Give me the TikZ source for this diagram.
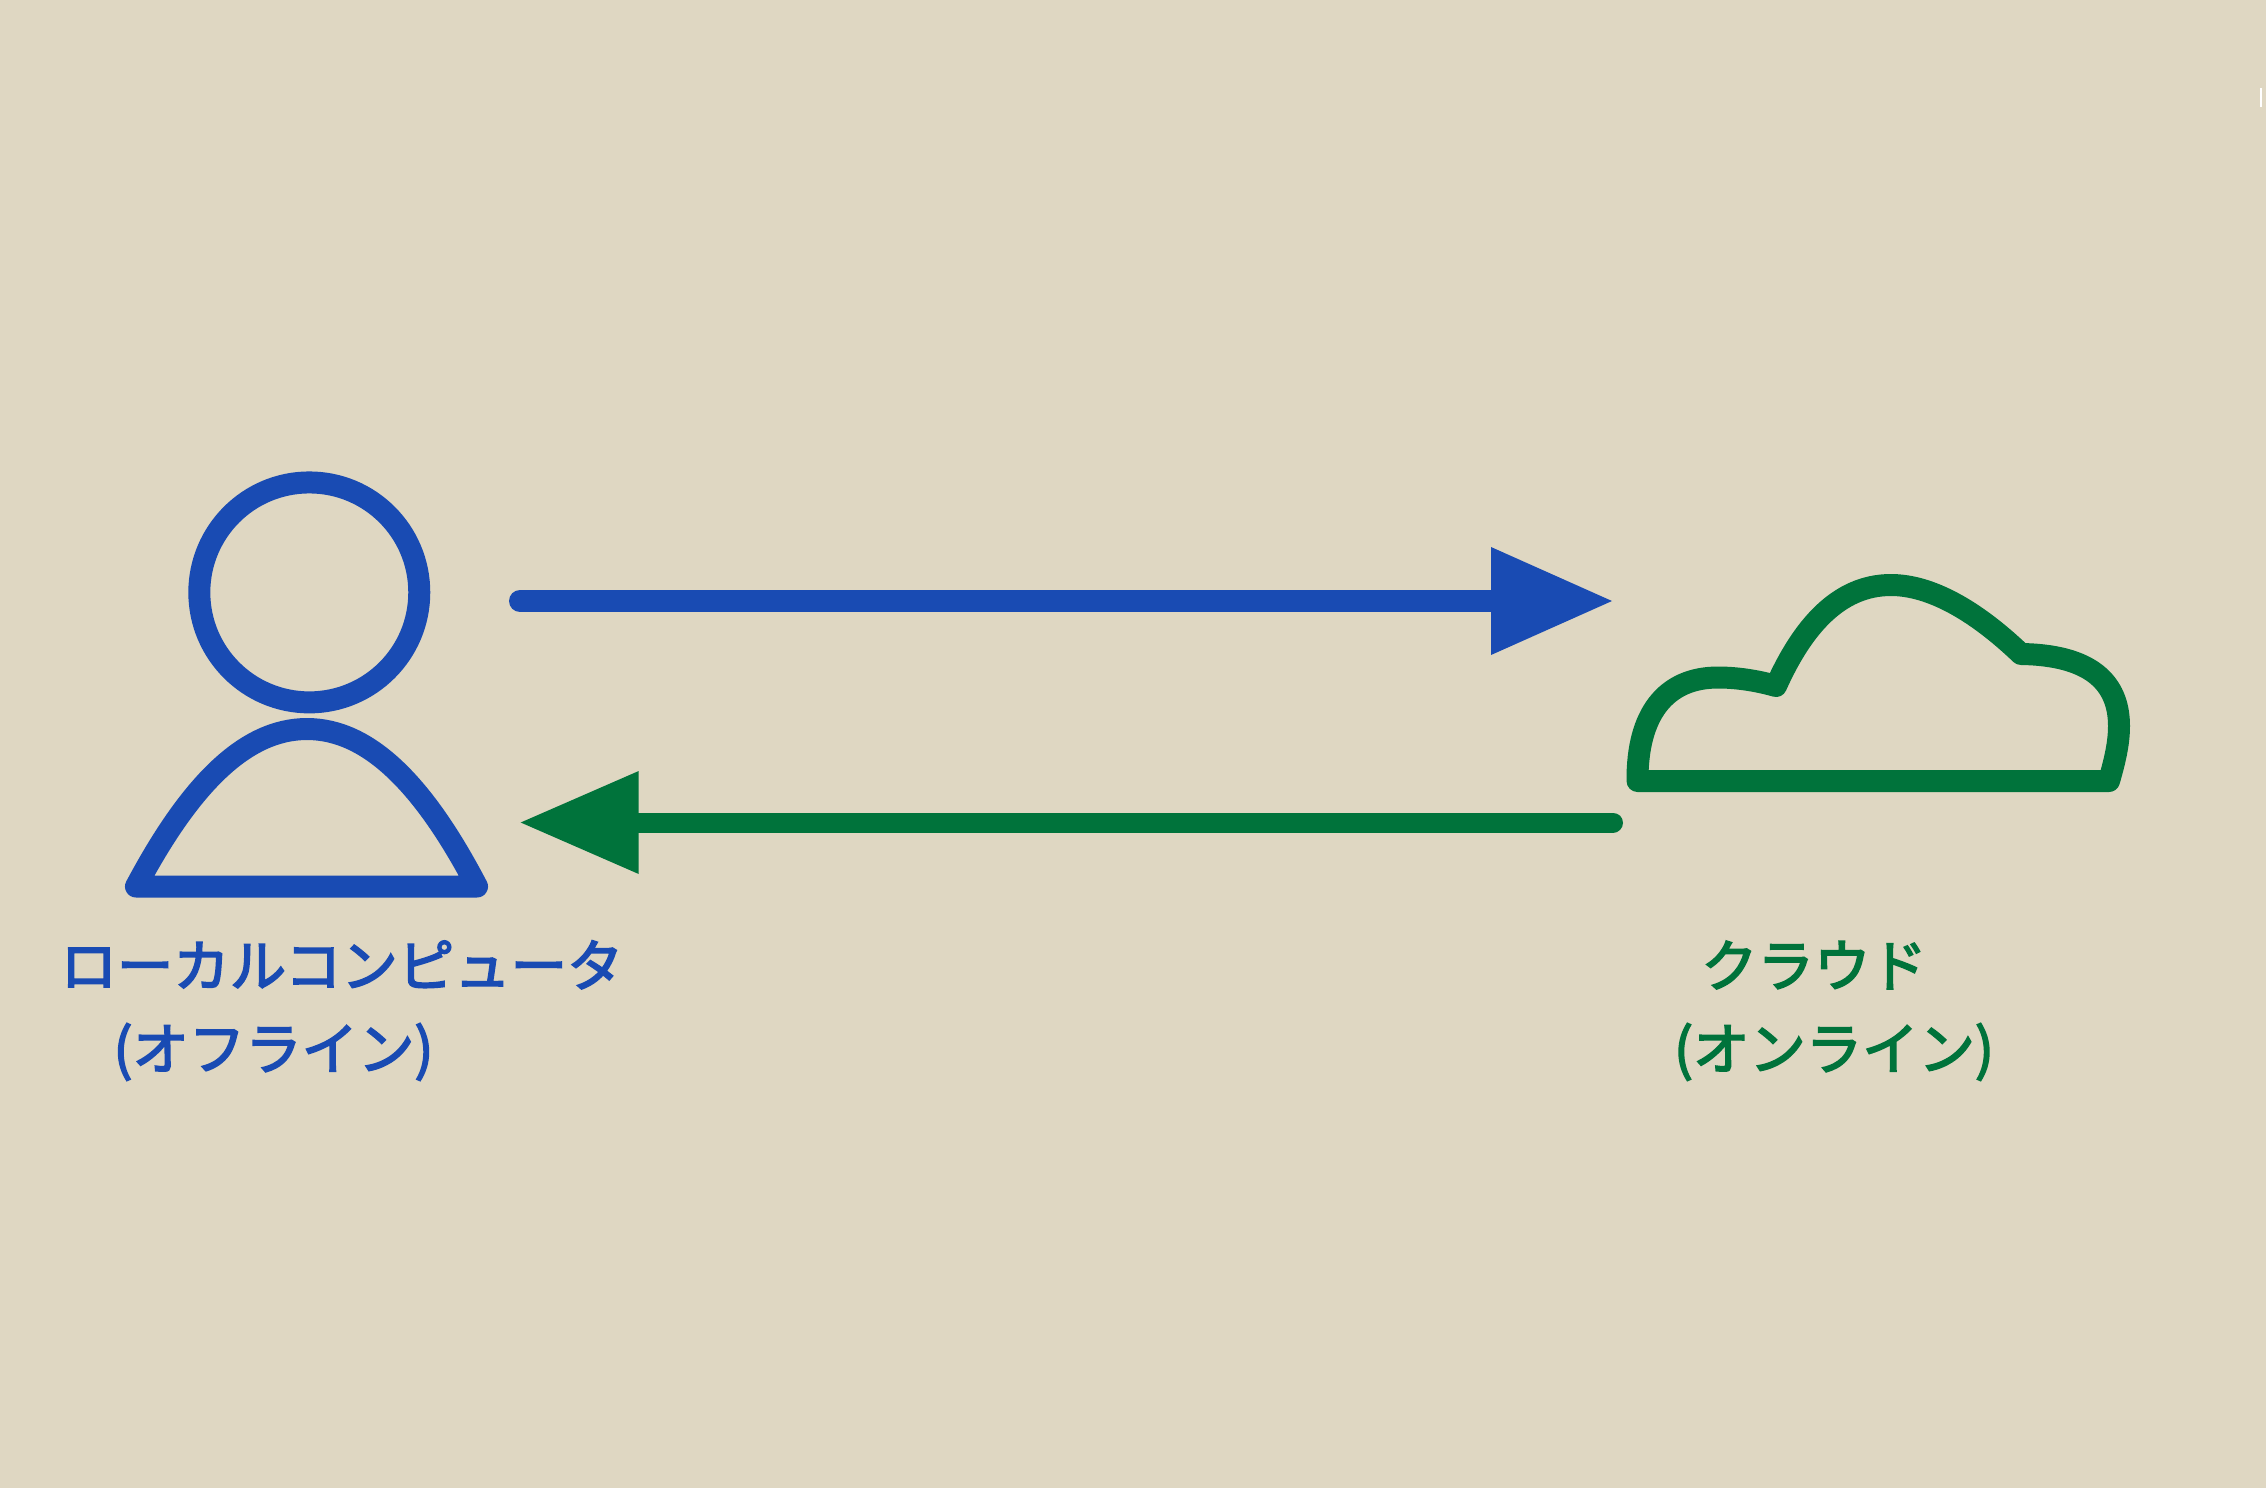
\documentclass[tikz,border=0pt]{standalone}
\usepackage{fontspec}
\setmainfont[FakeBold=3]{Noto Sans CJK JP}
\usetikzlibrary{arrows.meta}
\definecolor{bgc}{HTML}{DFD7C2}
\definecolor{bluec}{HTML}{194BB3}
\definecolor{greenc}{HTML}{00733B}
\tikzset{
  bluestroke/.style={draw=bluec,line width=0.44cm,line cap=round,line join=round},
  greenstroke/.style={draw=greenc,line width=0.44cm,line cap=round,line join=round},
  bluelabel/.style={text=bluec,inner sep=0pt,anchor=base,font=\fontsize{32.1}{38}\selectfont},
  greenlabel/.style={text=greenc,inner sep=0pt,anchor=base,font=\fontsize{32.1}{38}\selectfont},
  bluearrow/.style={bluestroke,-{Triangle[length=2.42cm,width=2.16cm,line width=0pt]}},
  greenarrow/.style={draw=greenc,line width=0.40cm,line cap=round,-{Triangle[length=2.36cm,width=2.06cm,line width=0pt]}}
}
\begin{document}
\begin{tikzpicture}[x=0.02cm,y=-0.02cm]
\useasboundingbox (0,0) rectangle (2266,1488);
\fill[bgc] (0,0) rectangle (2266,1488);
\fill[white] (2260,88) rectangle (2261.5,107);
% person
\node[circle,bluestroke,minimum size=4.4cm,inner sep=0pt] (head) at (309.3,592.4) {};
\draw[bluestroke] (136,886.5) .. controls (190,785) and (245,729) .. (307,729)
  .. controls (369,729) and (424,785) .. (477,886.5) -- cycle;
% cloud
\draw[greenstroke] (2109,781) .. controls (2116,757) and (2119,741) .. (2119,726)
  .. controls (2119,682) and (2090,655) .. (2021,654)
  .. controls (1975,610) and (1930,585) .. (1891,585)
  .. controls (1838,585) and (1802,628) .. (1776,686)
  .. controls (1755,680) and (1735,677.5) .. (1718,677.5)
  .. controls (1665,677.5) and (1637,715) .. (1637.5,781) -- cycle;
% connectors
\coordinate (bs) at (520,601);
\coordinate (be) at (1612,601);
\coordinate (gs) at (1613,822.5);
\coordinate (ge) at (520.7,822.5);
\draw[bluearrow] (bs) -- (be);
\draw[greenarrow] (gs) -- (ge);
% labels
\node[bluelabel] (l1) at (342,986.5) {ローカルコンピュータ};
\node[bluelabel] (l2) at (273.5,1069.5) {(オフライン)};
\node[greenlabel] (c1) at (1814,986.5) {クラウド};
\node[greenlabel] (c2) at (1834,1069.5) {(オンライン)};
\end{tikzpicture}
\end{document}
